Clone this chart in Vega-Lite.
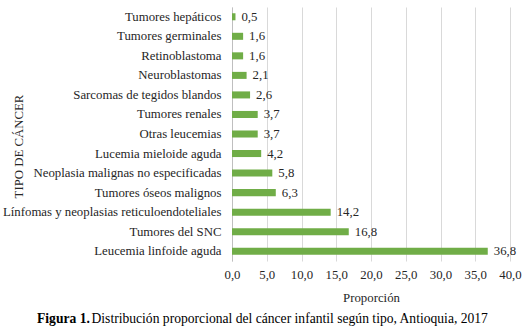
{
  "$schema": "https://vega.github.io/schema/vega-lite/v6.json",
  "autosize": {"type": "none"},
  "width": 278,
  "height": 254,
  "padding": {"left": 232, "top": 7, "right": 19, "bottom": 69},
  "background": "white",
  "title": {
    "text": "Figura 1.",
    "orient": "bottom",
    "anchor": "start",
    "frame": "group",
    "dx": -195,
    "offset": -13,
    "baseline": "top",
    "font": "Liberation Serif",
    "fontSize": 13.6,
    "fontWeight": "bold",
    "color": "#000000"
  },
  "data": {
    "values": [
      {"tipo": "Tumores hepáticos", "valor": 0.5},
      {"tipo": "Tumores germinales", "valor": 1.6},
      {"tipo": "Retinoblastoma", "valor": 1.6},
      {"tipo": "Neuroblastomas", "valor": 2.1},
      {"tipo": "Sarcomas  de tegidos blandos", "valor": 2.6},
      {"tipo": "Tumores renales", "valor": 3.7},
      {"tipo": "Otras leucemias", "valor": 3.7},
      {"tipo": "Lucemia mieloide aguda", "valor": 4.2},
      {"tipo": "Neoplasia malignas no especificadas", "valor": 5.8},
      {"tipo": "Tumores óseos malignos", "valor": 6.3},
      {"tipo": "Línfomas y neoplasias reticuloendoteliales", "valor": 14.2},
      {"tipo": "Tumores del SNC", "valor": 16.8},
      {"tipo": "Leucemia linfoide aguda", "valor": 36.8}
    ]
  },
  "encoding": {
    "y": {
      "field": "tipo",
      "type": "nominal",
      "sort": null,
      "scale": {"paddingInner": 0.64, "paddingOuter": 0.32},
      "axis": {
        "title": "TIPO DE CÁNCER",
        "titleFont": "Liberation Serif",
        "titleFontSize": 12.8,
        "titleFontWeight": "normal",
        "titleColor": "#262626",
        "titleX": -214,
        "titleY": 139,
        "titleAngle": -90,
        "titleAlign": "center",
        "titleBaseline": "middle",
        "labelFont": "Liberation Serif",
        "labelFontSize": 12.8,
        "labelColor": "#262626",
        "labelPadding": 11,
        "labelLimit": 400,
        "ticks": false,
        "grid": false,
        "domainColor": "#BFBFBF"
      }
    }
  },
  "layer": [
    {
      "mark": {"type": "bar", "color": "#70AD47"},
      "encoding": {
        "x": {
          "field": "valor",
          "type": "quantitative",
          "scale": {"domain": [0, 40], "nice": false},
          "axis": {
            "values": [0, 5, 10, 15, 20, 25, 30, 35, 40],
            "format": ".1f",
            "title": "Proporción",
            "titleFont": "Liberation Serif",
            "titleFontSize": 12.8,
            "titleFontWeight": "normal",
            "titleColor": "#262626",
            "titleBaseline": "middle",
            "titleY": 36,
            "labelFont": "Liberation Serif",
            "labelFontSize": 12.8,
            "labelColor": "#262626",
            "labelPadding": 7,
            "labelOverlap": false,
            "labelFlush": false,
            "ticks": false,
            "domain": false,
            "grid": true,
            "gridColor": "#D9D9D9"
          }
        }
      }
    },
    {
      "mark": {"type": "text", "align": "left", "baseline": "middle", "dx": 6, "font": "Liberation Serif", "fontSize": 12.8, "color": "#262626"},
      "encoding": {
        "x": {
          "field": "valor",
          "type": "quantitative",
          "scale": {"domain": [0, 40], "nice": false},
          "axis": {
            "orient": "bottom",
            "labels": false,
            "ticks": false,
            "domain": false,
            "grid": false,
            "title": "Distribución proporcional  del cáncer infantil según tipo, Antioquia, 2017",
            "titleFont": "Liberation Serif",
            "titleFontSize": 13.6,
            "titleFontWeight": "normal",
            "titleColor": "#000000",
            "titleAlign": "left",
            "titleBaseline": "middle",
            "titleX": -141,
            "titleY": 57
          }
        },
        "text": {"field": "valor", "type": "quantitative", "format": ".1f"}
      }
    }
  ],
  "resolve": {"scale": {"x": "independent"}},
  "config": {
    "view": {"stroke": null},
    "locale": {"number": {"decimal": ",", "thousands": ".", "grouping": [3], "currency": ["", " €"]}}
  }
}
